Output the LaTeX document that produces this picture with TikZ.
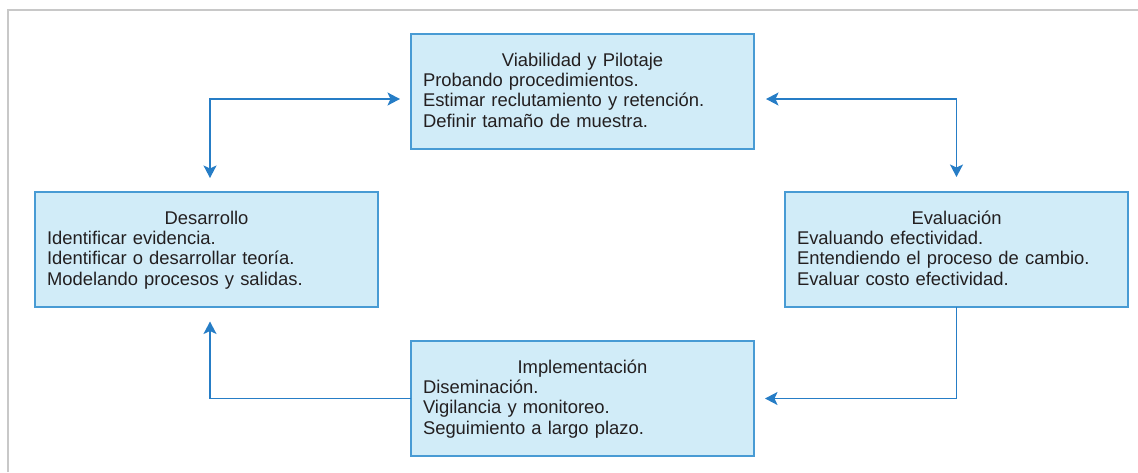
\documentclass[tikz,border=0pt]{standalone}
\usepackage{fontspec}
\setmainfont{Liberation Sans}
\usetikzlibrary{arrows.meta,positioning}

\definecolor{phasefill}{RGB}{209,236,248}
\definecolor{phaseline}{RGB}{72,155,212}
\definecolor{linkblue}{RGB}{38,125,198}
\definecolor{inkgray}{RGB}{35,31,32}
\definecolor{framegray}{RGB}{200,200,200}

\newcommand{\phasetext}[2]{{\centering #1\par}#2}

\begin{document}
\begin{tikzpicture}[x=1pt, y=-1pt,
  >={Stealth[length=12.5pt,width=13pt,inset=3pt]},
  phase/.style={rectangle, draw=phaseline, fill=phasefill, line width=1.4pt,
    minimum width=343pt, minimum height=115pt, inner xsep=12pt, inner ysep=0pt,
    outer sep=0pt, text width=319pt, align=left, text height=13.2pt, text depth=64pt,
    text=inkgray, font=\fontsize{18.4}{20.4}\selectfont},
  link/.style={draw=linkblue, line width=1.6pt}]

\useasboundingbox (0,0) rectangle (1138,472);

%Frame
\draw[framegray, line width=1.5pt] (8,472) -- (8,10) -- (1138,10);

%Nodes
\node[phase]   (viab) at (582.5,91.5) {\phasetext{Viabilidad y Pilotaje}{Probando procedimientos.\\Estimar reclutamiento y retención.\\Definir tamaño de muestra.}};
\node[phase]   (impl) [below=192pt of viab] {\phasetext{Implementación}{Diseminación.\\Vigilancia y monitoreo.\\Seguimiento a largo plazo.}};
\node[phase]   (des)  [below left=43pt and 33pt of viab.south west] {\phasetext{Desarrollo}{Identificar evidencia.\\Identificar o desarrollar teoría.\\Modelando procesos y salidas.}};
\node[phase]   (eval) [below right=43pt and 31pt of viab.south east] {\phasetext{Evaluación}{Evaluando efectividad.\\Entendiendo el proceso de cambio.\\Evaluar costo efectividad.}};

%Lines
\draw[link, <->, shorten <=11pt, shorten >=14pt] ([yshift=-7.5pt]viab.west) -| ([xshift=3.5pt]des.north);
\draw[link, <->, shorten <=12pt, shorten >=15pt] ([yshift=-7.5pt]viab.east) -| (eval.north);
\draw[link, ->, shorten >=11pt] (eval.south) |- (impl.east);
\draw[link, ->, shorten >=14.5pt] (impl.west) -| ([xshift=3.5pt]des.south);

\end{tikzpicture}
\end{document}
